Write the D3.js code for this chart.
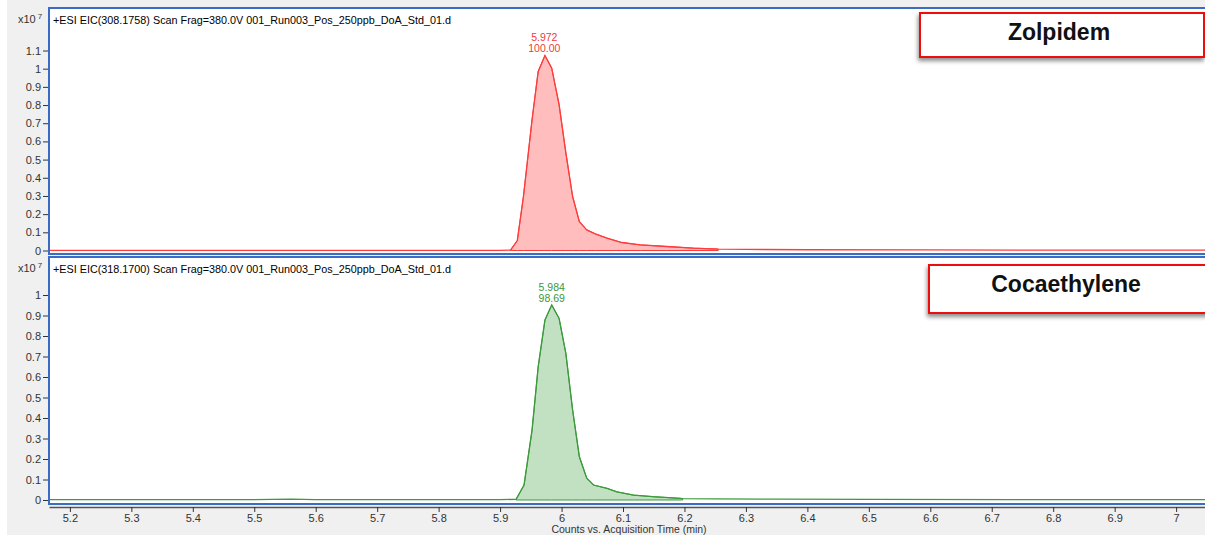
<!DOCTYPE html>
<html>
<head>
<meta charset="utf-8">
<script src="https://cdn.jsdelivr.net/npm/d3@7"></script>
<style>
  body { margin: 0; background: #fff; }
  svg { display: block; }
  text { font-family: Arial, "Liberation Sans", sans-serif; }
</style>
</head>
<body>
<div id="chart"></div>
<script>
// ---- data (counts in x10^7, time in min) ----
var zolTime   = [5.166, 5.30, 5.50, 5.70, 5.90, 5.917, 5.928, 5.938, 5.952, 5.962, 5.973, 5.984, 5.996, 6.007, 6.018, 6.029, 6.041, 6.055, 6.074, 6.098, 6.128, 6.171, 6.214, 6.255, 6.30, 6.40, 6.60, 6.80, 7.047];
var zolCounts = [0.001, 0.001, 0.001, 0.001, 0.001, 0.002, 0.055, 0.297, 0.719, 0.985, 1.073, 1.003, 0.802, 0.537, 0.297, 0.159, 0.113, 0.091, 0.068, 0.044, 0.031, 0.022, 0.013, 0.008, 0.006, 0.004, 0.003, 0.002, 0.002];
var zolInteg  = [5.917, 6.255];

var cocTime   = [5.166, 5.50, 5.56, 5.60, 5.90, 5.926, 5.939, 5.952, 5.962, 5.973, 5.984, 5.996, 6.007, 6.018, 6.029, 6.041, 6.052, 6.074, 6.090, 6.117, 6.149, 6.193, 6.197, 6.25, 6.35, 6.50, 6.80, 7.047];
var cocCounts = [0.002, 0.002, 0.004, 0.002, 0.002, 0.003, 0.073, 0.341, 0.650, 0.878, 0.951, 0.886, 0.715, 0.439, 0.211, 0.106, 0.073, 0.057, 0.040, 0.024, 0.016, 0.008, 0.007, 0.005, 0.004, 0.003, 0.002, 0.002];
var cocInteg  = [5.926, 6.197];

var xTicks   = [5.2, 5.3, 5.4, 5.5, 5.6, 5.7, 5.8, 5.9, 6, 6.1, 6.2, 6.3, 6.4, 6.5, 6.6, 6.7, 6.8, 6.9, 7];
var zolTicks = [0, 0.1, 0.2, 0.3, 0.4, 0.5, 0.6, 0.7, 0.8, 0.9, 1, 1.1];
var cocTicks = [0, 0.1, 0.2, 0.3, 0.4, 0.5, 0.6, 0.7, 0.8, 0.9, 1];

var titles     = ["+ESI EIC(308.1758) Scan Frag=380.0V 001_Run003_Pos_250ppb_DoA_Std_01.d",
                  "+ESI EIC(318.1700) Scan Frag=380.0V 001_Run003_Pos_250ppb_DoA_Std_01.d"];
var compounds  = ["Zolpidem", "Cocaethylene"];
var peakRT     = ["5.972", "5.984"];
var peakArea   = ["100.00", "98.69"];
var xAxisTitle = "Counts vs. Acquisition Time (min)";

// ---- layout ----
var width = 1205, height = 535;
var plotLeft = 49, plotRight = 1205;

var panels = [
  { top: 8,   bottom: 254, y0: 250.5, yMax: 1.1, yTop: 50.5, ticks: zolTicks,
    time: zolTime, counts: zolCounts, integ: zolInteg,
    stroke: "#ff3c3c", fill: "#ffbdbd", labelColor: "#ef3a3a",
    box: { x: 920, y: 13, w: 284, h: 44 }, nameX: 1059, nameY: 39.5 },
  { top: 257, bottom: 504, y0: 500, yMax: 1, yTop: 295, ticks: cocTicks,
    time: cocTime, counts: cocCounts, integ: cocInteg,
    stroke: "#3c9a3c", fill: "#c2e0c2", labelColor: "#3c963c",
    box: { x: 929, y: 265, w: 280, h: 48 }, nameX: 1066, nameY: 291.5 }
];

var svg = d3.select("#chart").append("svg")
  .attr("width", width)
  .attr("height", height);

var defs = svg.append("defs");
var shadow = defs.append("filter").attr("id", "shadow")
  .attr("x", "-10%").attr("y", "-20%").attr("width", "120%").attr("height", "160%");
shadow.append("feDropShadow")
  .attr("dx", -1).attr("dy", 3).attr("stdDeviation", 2)
  .attr("flood-color", "#000").attr("flood-opacity", 0.45);

// grey window background
svg.append("rect")
  .attr("x", 7).attr("y", 0)
  .attr("width", width - 7).attr("height", height)
  .attr("fill", "#f0f0f0");

var scaleX = d3.scaleLinear().domain([5.166, 7.047]).range([plotLeft, plotRight]);

panels.forEach(function(p, i) {
  var scaleY = d3.scaleLinear().domain([0, p.yMax]).range([p.y0, p.yTop]);
  var g = svg.append("g");

  g.append("rect")
    .attr("x", plotLeft).attr("y", p.top)
    .attr("width", plotRight - plotLeft).attr("height", p.bottom - p.top)
    .attr("fill", "#fff");

  defs.append("clipPath").attr("id", "clip" + i)
    .append("rect")
    .attr("x", plotLeft).attr("y", p.top)
    .attr("width", plotRight - plotLeft).attr("height", p.bottom - p.top);

  var data = p.time.map(function(t, k) { return { t: t, c: p.counts[k] }; });
  var integData = data.filter(function(d) { return d.t >= p.integ[0] && d.t <= p.integ[1]; });

  var plot = g.append("g").attr("clip-path", "url(#clip" + i + ")");

  // integrated peak fill
  plot.append("path")
    .datum(integData)
    .attr("fill", p.fill)
    .attr("stroke", p.stroke)
    .attr("stroke-width", 1)
    .attr("d", d3.area()
      .x(function(d) { return scaleX(d.t); })
      .y0(scaleY(0))
      .y1(function(d) { return scaleY(d.c); }));

  // trace
  plot.append("path")
    .datum(data)
    .attr("fill", "none")
    .attr("stroke", p.stroke)
    .attr("stroke-width", 1.3)
    .attr("d", d3.line()
      .x(function(d) { return scaleX(d.t); })
      .y(function(d) { return scaleY(d.c); }));

  // peak labels
  var peak = data.reduce(function(a, b) { return b.c > a.c ? b : a; });
  var px = scaleX(+peakRT[i]);
  g.append("text")
    .attr("x", px).attr("y", scaleY(peak.c) - 14)
    .attr("text-anchor", "middle")
    .attr("font-size", "10.5px")
    .attr("fill", p.labelColor)
    .text(peakRT[i]);
  g.append("text")
    .attr("x", px).attr("y", scaleY(peak.c) - 3)
    .attr("text-anchor", "middle")
    .attr("font-size", "10.5px")
    .attr("fill", p.labelColor)
    .text(peakArea[i]);

  // y axis
  var yAxisG = g.append("g")
    .attr("transform", "translate(" + (plotLeft - 1) + ",0)")
    .call(d3.axisLeft(scaleY).tickValues(p.ticks).tickSize(5).tickPadding(2)
      .tickFormat(d3.format("~g")));
  yAxisG.select(".domain").remove();
  yAxisG.selectAll(".tick line").attr("stroke", "#333");
  yAxisG.selectAll(".tick text")
    .attr("font-size", "11px")
    .attr("fill", "#333")
    .attr("font-family", "Arial, 'Liberation Sans', sans-serif");

  // frame (blue)
  g.append("path")
    .attr("d", "M" + plotRight + "," + p.top + "H" + plotLeft + "V" + p.bottom + "H" + plotRight)
    .attr("fill", "none")
    .attr("stroke", "#3b6cc5")
    .attr("stroke-width", 2);

  // x10^7
  var mult = g.append("text")
    .attr("x", 18).attr("y", p.top + 15)
    .attr("font-size", "11px").attr("fill", "#333");
  mult.append("tspan").text("x10");
  mult.append("tspan").attr("dx", 2).attr("dy", -4).attr("font-size", "8px").text("7");

  // header text
  g.append("text")
    .attr("x", 53).attr("y", p.top + 16)
    .attr("font-size", "10.8px").attr("fill", "#000")
    .text(titles[i]);

  // compound name box
  g.append("rect")
    .attr("x", p.box.x).attr("y", p.box.y)
    .attr("width", p.box.w).attr("height", p.box.h)
    .attr("fill", "#fff")
    .attr("stroke", "#ee1111")
    .attr("stroke-width", 2)
    .attr("filter", "url(#shadow)");
  g.append("text")
    .attr("x", p.nameX).attr("y", p.nameY)
    .attr("text-anchor", "middle")
    .attr("font-size", "23px").attr("font-weight", "bold")
    .attr("fill", "#111")
    .text(compounds[i]);
});

// shared x axis
var xAxisG = svg.append("g")
  .attr("transform", "translate(0,507)")
  .call(d3.axisBottom(scaleX).tickValues(xTicks).tickSize(5).tickSizeOuter(0).tickPadding(2)
    .tickFormat(d3.format("~g")));
xAxisG.select(".domain").attr("stroke", "#555").attr("stroke-width", 1.5);
xAxisG.selectAll(".tick line").attr("stroke", "#333");
xAxisG.selectAll(".tick text")
  .attr("font-size", "11px")
  .attr("fill", "#333")
  .attr("font-family", "Arial, 'Liberation Sans', sans-serif");

svg.append("text")
  .attr("x", 629).attr("y", 533)
  .attr("text-anchor", "middle")
  .attr("font-size", "10.5px").attr("fill", "#333")
  .text(xAxisTitle);
</script>
</body>
</html>
